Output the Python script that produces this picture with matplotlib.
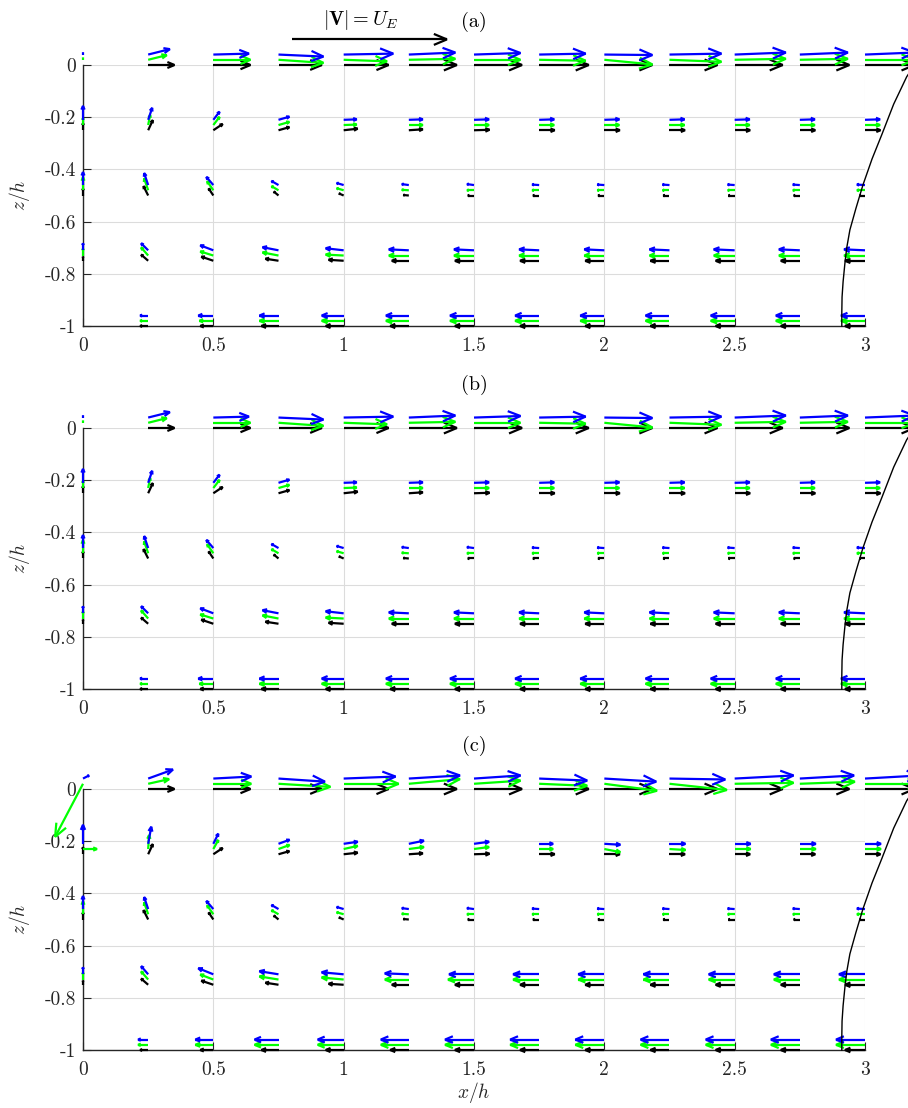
#!/usr/bin/env python3
import numpy as np
import matplotlib.pyplot as plt
from matplotlib.collections import LineCollection

# grid of stations (x/h) and depths (z/h)
x_h = [0, 0.25, 0.5, 0.75, 1.0, 1.25, 1.5, 1.75, 2.0, 2.25, 2.5, 2.75, 3.0]
z_h = [0, -0.25, -0.5, -0.75, -1.0]

# velocity components in units of U_E, one row per depth
black_u = [
    [0, 0.17, 0.24, 0.28, 0.29, 0.31, 0.31, 0.32, 0.31, 0.31, 0.31, 0.32, 0.32],
    [0, 0.03, 0.06, 0.07, 0.09, 0.09, 0.10, 0.10, 0.10, 0.10, 0.10, 0.10, 0.10],
    [0, -0.03, -0.03, -0.03, -0.03, -0.035, -0.04, -0.04, -0.04, -0.04, -0.04, -0.04, -0.035],
    [0, -0.045, -0.077, -0.084, -0.097, -0.11, -0.123, -0.123, -0.123, -0.123, -0.123, -0.123, -0.129],
    [0, -0.052, -0.084, -0.11, -0.116, -0.12, -0.123, -0.123, -0.123, -0.123, -0.123, -0.123, -0.129],
]
black_w = [
    [0, 0, 0, 0, 0, 0, 0, 0, 0, 0, 0, 0, 0],
    [0.045, 0.065, 0.04, 0.02, 0.01, 0.006, 0.003, 0, 0, 0, 0, 0, 0],
    [0.045, 0.06, 0.045, 0.025, 0.013, 0.003, 0, 0, 0, 0, 0, 0, 0],
    [0.026, 0.039, 0.026, 0.013, 0.006, 0, 0, 0, 0, 0, 0, 0, 0],
    [0, 0, 0, 0, 0, 0, 0, 0, 0, 0, 0, 0, 0],
]

# panels (a) and (b)
green_u_ab = [
    [0, 0.12, 0.24, 0.29, 0.28, 0.30, 0.30, 0.30, 0.31, 0.335, 0.33, 0.31, 0.32],
    [0, 0.013, 0.04, 0.07, 0.084, 0.09, 0.097, 0.097, 0.097, 0.097, 0.097, 0.097, 0.097],
    [0, -0.026, -0.04, -0.045, -0.045, -0.045, -0.045, -0.045, -0.045, -0.045, -0.045, -0.045, -0.052],
    [0, -0.045, -0.084, -0.103, -0.116, -0.129, -0.129, -0.129, -0.129, -0.129, -0.135, -0.135, -0.135],
    [0, -0.052, -0.09, -0.123, -0.142, -0.148, -0.155, -0.155, -0.155, -0.155, -0.155, -0.155, -0.155],
]
green_w_ab = [
    [0.013, 0.03, 0, -0.02, -0.01, 0.006, 0, -0.006, -0.03, -0.013, 0.006, 0.006, 0],
    [0.045, 0.065, 0.052, 0.02, 0.003, 0, 0, 0, 0, 0, 0, 0, 0],
    [0.084, 0.077, 0.058, 0.026, 0.013, 0.003, 0, 0, 0, 0, 0, 0, 0],
    [0.045, 0.052, 0.026, 0.02, 0.006, 0, 0, 0, 0, 0, 0, 0, 0],
    [0, 0, 0, 0, 0, 0, 0, 0, 0, 0, 0, 0, 0],
]
blue_u_ab = [
    [0, 0.14, 0.23, 0.29, 0.32, 0.30, 0.30, 0.30, 0.31, 0.335, 0.33, 0.31, 0.32],
    [0, 0.026, 0.04, 0.07, 0.084, 0.09, 0.097, 0.097, 0.097, 0.097, 0.097, 0.097, 0.097],
    [0, -0.026, -0.045, -0.045, -0.045, -0.045, -0.045, -0.045, -0.045, -0.045, -0.045, -0.045, -0.052],
    [0, -0.045, -0.084, -0.103, -0.116, -0.129, -0.129, -0.129, -0.129, -0.129, -0.135, -0.135, -0.135],
    [0, -0.052, -0.097, -0.123, -0.142, -0.148, -0.155, -0.155, -0.155, -0.155, -0.155, -0.155, -0.155],
]
blue_w_ab = [
    [0.013, 0.035, 0.006, -0.013, 0.006, 0.013, 0.01, 0.006, -0.003, 0.006, 0.013, 0.013, 0.013],
    [0.09, 0.077, 0.052, 0.02, 0.003, 0.003, 0.003, 0.003, 0.003, 0.003, 0.003, 0.003, 0.003],
    [0.084, 0.077, 0.052, 0.026, 0.013, 0.006, 0.006, 0.003, 0.003, 0.003, 0.003, 0.003, 0.003],
    [0.045, 0.045, 0.032, 0.02, 0.013, 0.006, 0.006, 0.006, 0.006, 0.006, 0.006, 0.006, 0.006],
    [0, 0, 0, 0, 0, 0, 0, 0, 0, 0, 0, 0, 0],
]

# panel (c)
green_u_c = [
    [-0.18, 0.135, 0.245, 0.335, 0.355, 0.33, 0.30, 0.31, 0.34, 0.37, 0.38, 0.355, 0.36],
    [0.09, 0.006, 0.032, 0.071, 0.09, 0.097, 0.097, 0.09, 0.103, 0.103, 0.103, 0.103, 0.103],
    [0, -0.026, -0.04, -0.045, -0.045, -0.045, -0.045, -0.045, -0.045, -0.045, -0.045, -0.045, -0.052],
    [0, -0.045, -0.084, -0.123, -0.142, -0.155, -0.168, -0.168, -0.168, -0.168, -0.168, -0.168, -0.168],
    [0, -0.065, -0.116, -0.155, -0.168, -0.181, -0.187, -0.187, -0.187, -0.187, -0.187, -0.187, -0.187],
]
green_w_c = [
    [-0.342, 0.03, 0, -0.02, 0, 0.03, 0.02, -0.013, -0.045, -0.04, 0.006, 0.013, 0],
    [0, 0.09, 0.058, 0.026, 0.02, 0.013, 0.013, 0, -0.02, -0.006, 0, 0, 0],
    [0.084, 0.077, 0.058, 0.026, 0.013, 0.003, 0, 0, 0, 0, 0, 0, 0],
    [0.045, 0.052, 0.032, 0.02, 0.013, 0, 0, 0, 0, 0, 0, 0, 0],
    [0, 0, 0, 0, 0, 0, 0, 0, 0, 0, 0, 0, 0],
]
blue_u_c = [
    [0.039, 0.16, 0.245, 0.30, 0.335, 0.33, 0.30, 0.31, 0.335, 0.36, 0.38, 0.35, 0.355],
    [0, 0.02, 0.032, 0.071, 0.09, 0.097, 0.097, 0.09, 0.103, 0.103, 0.103, 0.103, 0.103],
    [0, -0.026, -0.045, -0.045, -0.045, -0.045, -0.045, -0.045, -0.045, -0.045, -0.045, -0.045, -0.052],
    [0, -0.045, -0.097, -0.123, -0.142, -0.155, -0.161, -0.168, -0.168, -0.168, -0.168, -0.168, -0.168],
    [0, -0.065, -0.116, -0.155, -0.168, -0.181, -0.187, -0.187, -0.187, -0.187, -0.187, -0.187, -0.187],
]
blue_w_c = [
    [0.02, 0.058, 0.013, -0.02, 0.013, 0.02, 0.02, -0.013, -0.02, -0.006, 0.02, 0.02, 0.02],
    [0.123, 0.11, 0.065, 0.026, 0.013, 0.02, 0.013, 0, -0.006, 0, 0, 0, 0],
    [0.084, 0.077, 0.052, 0.026, 0.013, 0.006, 0.006, 0.003, 0.003, 0.003, 0.003, 0.003, 0.003],
    [0.045, 0.052, 0.039, 0.02, 0.013, 0.006, 0, 0, 0, 0, 0, 0, 0],
    [0, 0, 0, 0, 0, 0, 0, 0, 0, 0, 0, 0, 0],
]

# black curve on the right
curve_x = [3.19, 3.16, 3.11, 3.064, 3.027, 2.992, 2.965, 2.942, 2.93, 2.923, 2.916, 2.912, 2.911, 2.911]
curve_z = [0, -0.045, -0.15, -0.268, -0.36, -0.46, -0.55, -0.632, -0.7, -0.759, -0.83, -0.889, -0.95, -1.0]

panel_labels = ["(a)", "(b)", "(c)"]

plt.rcParams["font.family"] = "cmr10"
plt.rcParams["mathtext.fontset"] = "cm"
plt.rcParams["axes.unicode_minus"] = False

# |V| = U_E spans 0.594 x/h on the plot
VEC_LEN = 0.594


def draw_arrows(ax, x, z, u, w, color, zorder):
    # matlab-like quiver: shaft plus open V head scaled with the arrow
    segs = []
    for xi, zi, ui, wi in zip(np.ravel(x), np.ravel(z), np.ravel(u), np.ravel(w)):
        dx, dz = ui * VEC_LEN, wi * VEC_LEN
        L = np.hypot(dx, dz)
        if L < 1e-4:
            continue
        tx, tz = xi + dx, zi + dz
        hl = min(0.27 * L, 0.05)
        hw = 0.42 * hl
        ex, ez = dx / L, dz / L
        bx, bz = tx - hl * ex, tz - hl * ez
        segs.append([(xi, zi), (tx, tz)])
        segs.append([(bx - hw * ez, bz + hw * ex), (tx, tz), (bx + hw * ez, bz - hw * ex)])
    lc = LineCollection(segs, colors=[color], linewidths=1.6, zorder=zorder,
                        clip_on=False, capstyle="butt", joinstyle="miter")
    ax.add_collection(lc)


W_PX, H_PX = 908, 1108
fig = plt.figure(figsize=(W_PX / 100, H_PX / 100), dpi=100)

panel_tops = [65, 428, 789]
ax_left, ax_right = 83, 865
X, Z = np.meshgrid(x_h, z_h)

panels = [
    (green_u_ab, green_w_ab, blue_u_ab, blue_w_ab),
    (green_u_ab, green_w_ab, blue_u_ab, blue_w_ab),
    (green_u_c, green_w_c, blue_u_c, blue_w_c),
]

axes = []
for i, (gu, gw, bu, bw) in enumerate(panels):
    top = panel_tops[i]
    rect = [ax_left / W_PX, 1 - (top + 261) / H_PX, (ax_right - ax_left) / W_PX, 261 / H_PX]
    ax = fig.add_axes(rect)
    axes.append(ax)

    draw_arrows(ax, X, Z, black_u, black_w, "k", 3)
    draw_arrows(ax, X, Z + 0.02, gu, gw, (0, 1, 0), 4)
    draw_arrows(ax, X, Z + 0.04, bu, bw, (0, 0, 1), 5)
    ax.plot(curve_x, curve_z, color="k", lw=1.0, clip_on=False, zorder=6)
    ax.set_xlim(0, 3)
    ax.set_ylim(-1, 0)

    ax.grid(True, color="#dcdcdc", lw=0.8)
    ax.set_axisbelow(True)
    for s in ["top", "right"]:
        ax.spines[s].set_visible(False)
    for s in ["left", "bottom"]:
        ax.spines[s].set_color("#262626")
        ax.spines[s].set_linewidth(1.0)
        ax.spines[s].set_zorder(2)

    ax.set_xticks([0, 0.5, 1, 1.5, 2, 2.5, 3])
    ax.set_xticklabels(["0", "0.5", "1", "1.5", "2", "2.5", "3"])
    ax.set_yticks([-1, -0.8, -0.6, -0.4, -0.2, 0])
    ax.set_yticklabels(["-1", "-0.8", "-0.6", "-0.4", "-0.2", "0"])
    ax.tick_params(direction="in", length=5.8, width=0.8, color="#262626",
                   labelsize=14, labelcolor="#262626")
    ax.tick_params(axis="x", pad=8)
    ax.tick_params(axis="y", pad=5)
    ax.set_ylabel("$z/h$", fontsize=14, color="#262626", labelpad=9)
    ax.text(0.5, 1.165, panel_labels[i], transform=ax.transAxes, ha="center",
            va="center", fontsize=14.5)

axes[-1].set_xlabel("$x/h$", fontsize=14, color="#262626", labelpad=1)

# reference vector |V| = U_E above panel (a)
draw_arrows(axes[0], [0.802], [0.098], [1.0], [0.0], "k", 5)
axes[0].text(1.066, 0.172, r"$|\mathbf{V}| = U_E$", ha="center", va="center",
             fontsize=14.5, clip_on=False)

plt.savefig("out.png", dpi=100)
